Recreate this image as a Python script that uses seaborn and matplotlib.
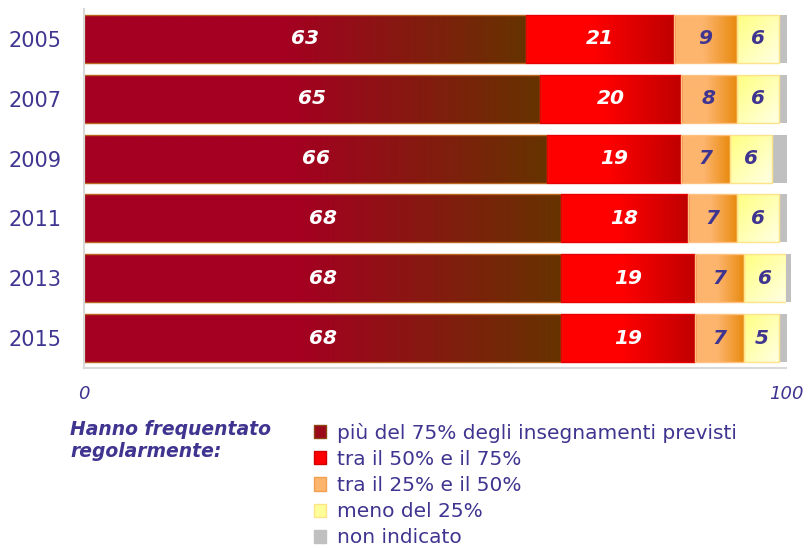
import numpy as np
import pandas as pd
import matplotlib
matplotlib.use("Agg")
import matplotlib.pyplot as plt
import matplotlib.colors as mcolors
from matplotlib.patches import Patch
import seaborn as sns

# ===============================
# Data
# ===============================
years = ["2005", "2007", "2009", "2011", "2013", "2015"]
oltre_75 = [63, 65, 66, 68, 68, 68]
tra_50_75 = [21, 20, 19, 18, 19, 19]
tra_25_50 = [9, 8, 7, 7, 7, 7]
meno_25 = [6, 6, 6, 6, 6, 5]
non_indicato = [1, 1, 2, 1, 0.6, 1]

categorie = ["più del 75% degli insegnamenti previsti",
             "tra il 50% e il 75%",
             "tra il 25% e il 50%",
             "meno del 25%",
             "non indicato"]

PURPLE = "#3F3590"

# (values, left colour, right colour, edge, text colour, gradient kind)
layers = [
    (oltre_75, "#A50021", "#663300", "#B8651E", "white", "h"),
    (tra_50_75, "#FF0000", "#C00000", "#E80000", "white", "h"),
    (tra_25_50, "#FDB56E", "#E8890C", "#FFC080", PURPLE, "h"),
    (meno_25, "#FFFF80", "#FFFFE6", "#FFE38A", PURPLE, "d"),
    (non_indicato, "#C0C0C0", "#C0C0C0", "none", None, "h"),
]


def gradient(c1, c2, kind, start=0.45, n=128):
    a = np.array(mcolors.to_rgb(c1))
    b = np.array(mcolors.to_rgb(c2))
    t = np.linspace(0, 1, n)
    if kind == "h":
        w = np.clip((t - start) / (1 - start), 0, 1)[None, :]
    else:
        w = (t[None, :] + t[:, None]) / 2
    w = w[..., None]
    return a * (1 - w) + b * w


sns.set_style("white")
plt.rcParams["font.family"] = ["DejaVu Sans"]

fig = plt.figure(figsize=(8.08, 5.48), dpi=100)
ax = fig.add_axes([84 / 808, 1 - 368 / 548, 702 / 808, 359 / 548])

left = np.zeros(len(years))
for vals, c1, c2, edge, tcol, kind in layers:
    df = pd.DataFrame({"anno": years, "valore": vals})
    n0 = len(ax.patches)
    sns.barplot(data=df, x="valore", y="anno", orient="h", color=c1,
                saturation=1, errorbar=None, width=0.8, ax=ax)
    new = ax.patches[n0:]
    for p, l, v in zip(new, left, vals):
        p.set_x(l)
        p.set_width(v)
        p.set_facecolor("none")
        p.set_edgecolor(edge)
        p.set_linewidth(1.0)
        p.set_zorder(2)
        y0 = p.get_y()
        y1 = y0 + p.get_height()
        im = ax.imshow(gradient(c1, c2, kind), extent=(l, l + v, y0, y1),
                       origin="lower", aspect="auto", zorder=1,
                       interpolation="bilinear")
        im.set_clip_path(p)
        if tcol is not None:
            ax.text(l + v / 2, (y0 + y1) / 2, f"{v:g}", ha="center",
                    va="center", color=tcol, fontsize=14.5,
                    fontweight="bold", fontstyle="italic", zorder=3)
    left = left + np.array(vals)

ax.set_xlim(0, 100)
ax.set_ylim(5.5, -0.5)
ax.set_xlabel("")
ax.set_ylabel("")
ax.set_xticks([0, 100])
ax.set_xticklabels(["0", "100"], fontstyle="italic", color=PURPLE, fontsize=13)
ax.tick_params(axis="x", length=5, color="#D9D9D9", width=1.5, pad=7)
ax.tick_params(axis="y", length=0, pad=16, labelcolor=PURPLE, labelsize=15)
for s in ["top", "right"]:
    ax.spines[s].set_visible(False)
for s in ["left", "bottom"]:
    ax.spines[s].set_color("#D9D9D9")
    ax.spines[s].set_linewidth(1.5)

# Legend
fig.text(70 / 808, 1 - 420 / 548, "Hanno frequentato\nregolarmente:",
         ha="left", va="top", color=PURPLE, fontsize=13.5,
         fontweight="bold", fontstyle="italic", linespacing=1.2)

handle_cols = [("#9B0A1A", "#8B4513"), ("#FF0000", "#D00000"),
               ("#FDB56E", "#F0A050"), ("#FFFF99", "#FFE38A"),
               ("#C0C0C0", "#C0C0C0")]
handles = [Patch(facecolor=f, edgecolor=e, linewidth=1) for f, e in handle_cols]
fig.legend(handles, categorie, loc="upper left",
           bbox_to_anchor=(314 / 808, 1 - 423 / 548), frameon=False,
           fontsize=14.5, labelcolor=PURPLE, handlelength=0.62,
           handleheight=0.62, handletextpad=0.53, labelspacing=0.35,
           borderaxespad=0, borderpad=0)

fig.savefig("out.png", dpi=100)
